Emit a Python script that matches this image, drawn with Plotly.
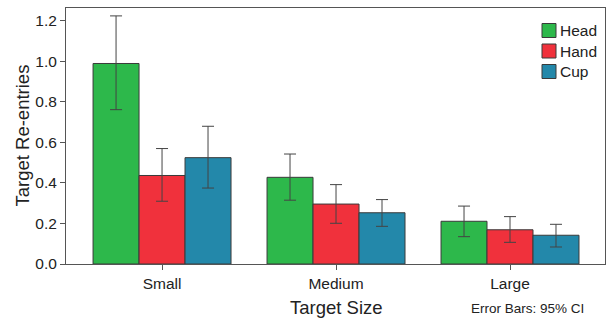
import plotly.graph_objects as go

categories = ["Small", "Medium", "Large"]
series_names = ["Head", "Hand", "Cup"]
head_vals = [0.99, 0.428, 0.211]
hand_vals = [0.437, 0.296, 0.169]
cup_vals = [0.525, 0.253, 0.142]
head_hi = [1.225, 0.543, 0.286]
head_lo = [0.762, 0.315, 0.135]
hand_hi = [0.57, 0.392, 0.234]
hand_lo = [0.31, 0.201, 0.107]
cup_hi = [0.68, 0.318, 0.196]
cup_lo = [0.375, 0.186, 0.084]
y_ticks = [0.0, 0.2, 0.4, 0.6, 0.8, 1.0, 1.2]

colors = ["#2db84b", "#f0313c", "#2388aa"]
vals = [head_vals, hand_vals, cup_vals]
his = [head_hi, hand_hi, cup_hi]
los = [head_lo, hand_lo, cup_lo]

W, H = 616, 320
L, R, T, B = 66, 11, 8, 56
PW, PH = W - L - R, H - T - B

fig = go.Figure()
for name, v, hi, lo, c in zip(series_names, vals, his, los, colors):
    fig.add_trace(go.Bar(
        name=name, x=categories, y=v, marker_color=c,
        marker_line=dict(color="#3a3a3a", width=1),
        showlegend=False, hoverinfo="skip",
        error_y=dict(type="data", symmetric=False,
                     array=[h - a for h, a in zip(hi, v)],
                     arrayminus=[a - l for l, a in zip(lo, v)],
                     color="#444444", thickness=1, width=6),
    ))

font = "Liberation Sans, Arial, sans-serif"
txt = "#222222"

def px_x(px):
    return (px - L) / PW

def px_y(py):
    return (H - B - py) / PH

annotations = [
    dict(text="Target Size", xref="paper", yref="paper", x=px_x(336), y=px_y(307),
         xanchor="center", yanchor="middle", showarrow=False,
         font=dict(size=18.5, color=txt)),
    dict(text="Target Re-entries", xref="paper", yref="paper", x=px_x(21.5), y=0.5,
         xanchor="center", yanchor="middle", textangle=-90, showarrow=False,
         font=dict(size=18.5, color=txt)),
    dict(text="Error Bars: 95% CI", xref="paper", yref="paper", x=px_x(586), y=px_y(308),
         xanchor="right", yanchor="middle", showarrow=False,
         font=dict(size=13.5, color=txt)),
]
shapes = []
legend_y = [30.5, 51, 71.5]
for name, c, yc in zip(series_names, colors, legend_y):
    shapes.append(dict(type="rect", xref="paper", yref="paper",
                       x0=px_x(542), x1=px_x(556), y0=px_y(yc + 7), y1=px_y(yc - 7),
                       fillcolor=c, line=dict(color="#3a3a3a", width=1)))
    annotations.append(dict(text=name, xref="paper", yref="paper", x=px_x(558), y=px_y(yc),
                            xanchor="left", yanchor="middle", showarrow=False,
                            font=dict(size=15.5, color=txt)))

fig.update_layout(
    width=W, height=H,
    margin=dict(l=L, r=R, t=T, b=B, autoexpand=False),
    barmode="group", bargap=0.207, bargroupgap=0,
    plot_bgcolor="white", paper_bgcolor="white",
    font=dict(family=font, size=15.5, color=txt),
    showlegend=False,
    xaxis=dict(
        type="category", range=[-0.552, 2.546], automargin=False,
        showline=True, linecolor="#555555", linewidth=1, mirror=True,
        ticks="outside", ticklen=5, tickcolor="#555555",
        tickfont=dict(size=15.5, color=txt),
    ),
    yaxis=dict(
        range=[0, 1.264], tickvals=y_ticks, automargin=False,
        ticktext=[f"{t:.1f}" for t in y_ticks],
        showgrid=False, zeroline=False,
        showline=True, linecolor="#555555", linewidth=1, mirror=True,
        ticks="outside", ticklen=5, tickcolor="#555555",
        tickfont=dict(size=15.5, color=txt),
    ),
    annotations=annotations,
    shapes=shapes,
)

fig.write_html("out.html", config={"displayModeBar": False},
               post_script="document.body.style.margin='0';document.body.style.overflow='hidden';")
